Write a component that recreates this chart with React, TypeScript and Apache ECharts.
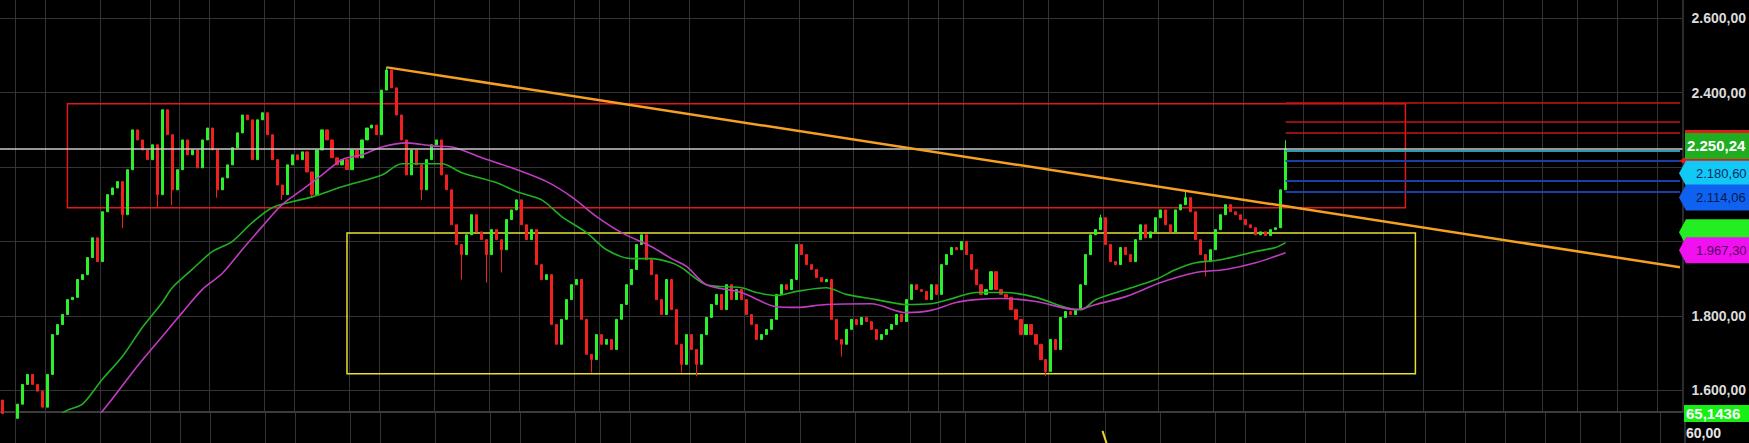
import React, { useEffect, useRef } from "react";
import * as echarts from "echarts";

// ---------- data ----------
const SLOTS = 337;
const categories: string[] = Array.from({ length: SLOTS }, (_, i) => `P${i + 1}`);

const firstOpen = 1574;
const closesRally = [
  1538, 1528, 1525, 1563, 1616, 1643, 1616, 1598, 1555, 1643,
  1750, 1777, 1804, 1844, 1850, 1898, 1911, 1957, 2010, 1946,
  2080, 2126, 2144, 2161, 2072, 2193, 2300, 2273, 2246, 2220,
  2260, 2126, 2354, 2287, 2139, 2193, 2273, 2233, 2246, 2198,
  2273, 2305, 2246, 2139, 2171, 2206, 2252, 2292, 2340, 2327,
  2220, 2327, 2346, 2287, 2220, 2152, 2126, 2206, 2233, 2220,
  2241, 2187, 2126, 2246, 2300,
];
const closesPeak = [
  2273, 2225, 2206, 2220, 2193,
  2246, 2225, 2273, 2305, 2313, 2287, 2407, 2461, 2413, 2340,
  2273, 2179, 2246, 2206, 2139, 2220, 2260, 2273, 2179, 2139,
  2045, 1992, 1965, 2018, 2072, 2026, 2005, 1965, 2032, 2005,
  1978, 2059, 2085, 2112, 2045, 2005, 2032, 1938, 1898, 1911,
  1777, 1724, 1791, 1844, 1884, 1898, 1791, 1697, 1683, 1750,
  1724, 1737, 1710, 1791, 1831, 1884, 1925, 1992, 2018, 1951,
];
const closesRange = [
  1911, 1844, 1804, 1898, 1817, 1724, 1670, 1750, 1710, 1670,
  1750, 1796, 1831, 1858, 1817, 1884, 1844, 1871, 1844, 1804,
  1777, 1737, 1750, 1764, 1791, 1858, 1884, 1871, 1898, 1992,
  1965, 1938, 1925, 1903, 1892, 1898, 1791, 1737, 1724, 1764,
  1791, 1777, 1796, 1785, 1764, 1737, 1750, 1764, 1777, 1804,
  1785, 1844, 1884, 1871, 1866, 1844, 1884, 1858, 1938, 1965,
  1984, 1978, 2000, 1965, 1925,
];
const closesBreakout = [
  1884, 1858, 1871, 1919, 1871,
  1858, 1850, 1817, 1791, 1750, 1777, 1750, 1724, 1683, 1651,
  1737, 1710, 1796, 1812, 1804, 1817, 1884, 1965, 2018, 2032,
  2064, 1992, 1946, 1938, 1984, 1965, 1946, 2005, 2045, 2010,
  2026, 2064, 2085, 2045, 2026, 2085, 2099, 2118, 2080, 2005,
  1965, 1946, 1978, 2032, 2072, 2099, 2080, 2072, 2059, 2045,
  2037, 2018, 2026, 2016, 2032, 2037, 2139, 2250.24,
];

const wickHighs: [number, number][] = [[77, 2470], [220, 2072], [237, 2134], [257, 2272]];
const wickLows: [number, number][] = [
  [24, 2036], [31, 2090], [34, 2098], [43, 2118], [56, 2112], [62, 2118], [84, 2112],
  [92, 1898], [97, 1890], [100, 1917], [118, 1648], [136, 1648], [139, 1638],
  [168, 1691], [209, 1638], [241, 1906],
];

// moving averages as [slot, value]
const maFast: [number, number][] = [
  [10, 1522], [13, 1547], [16, 1563], [20, 1630], [24, 1691], [28, 1769], [32, 1836],
  [34, 1876], [38, 1925], [42, 1973], [46, 2000], [50, 2051], [54, 2091], [58, 2107],
  [62, 2120], [68, 2147], [76, 2179], [80, 2209], [88, 2209], [92, 2185], [99, 2158],
  [103, 2134], [108, 2112], [112, 2067], [117, 2024], [121, 1978], [126, 1954],
  [130, 1954], [134, 1943], [136, 1930], [141, 1884], [148, 1876], [151, 1863],
  [155, 1855], [159, 1866], [165, 1876], [169, 1858], [175, 1844], [181, 1831],
  [186, 1833], [191, 1850], [195, 1863], [201, 1863], [207, 1850], [213, 1823],
  [216, 1817], [219, 1844], [225, 1871], [231, 1898], [235, 1925], [239, 1943],
  [244, 1951], [251, 1973], [255, 1984], [257, 1997],
];
const maSlow: [number, number][] = [
  [18, 1522], [20, 1544], [27, 1665], [32, 1745], [36, 1809], [40, 1871], [44, 1914],
  [48, 1978], [52, 2040], [56, 2099], [60, 2139], [64, 2179], [68, 2220], [72, 2233],
  [76, 2254], [81, 2265], [86, 2257], [90, 2254], [96, 2225], [102, 2198], [109, 2161],
  [114, 2120], [119, 2067], [124, 2024], [130, 1986], [134, 1954], [137, 1933],
  [141, 1884], [148, 1863], [155, 1825], [159, 1823], [165, 1831], [174, 1833],
  [181, 1809], [186, 1815], [191, 1836], [195, 1844], [200, 1847], [207, 1839],
  [215, 1817], [219, 1831], [225, 1852], [232, 1890], [239, 1917], [245, 1925],
  [251, 1943], [257, 1970],
];

const oscPoints: [number, number][] = [[220, 60.7], [221, 56.4]];

const monthTicks = [
  3, 9, 20, 30, 36, 42, 53, 59, 70, 76, 87, 98, 104, 115, 120, 126, 138, 149, 160,
  171, 182, 188, 193, 205, 210, 221, 232, 243, 249, 261, 269, 277, 285, 293, 301,
  309, 316, 324, 332,
];

const redLevels = [2373, 2322, 2293];
const tealLevel = 2243;
const blueLevels = [2217, 2163, 2134];
const lastClose = 2250.24;
const cyanLabel = 2180.6;
const blueLabel = 2114.06;
const slowLast = 1967.3;
const oscLast = 65.1436;
const oscRef = 60;

// ---------- helpers ----------
const fmt = (v: number, d = 2) => {
  const [i, dec] = v.toFixed(d).split(".");
  return i.replace(/\B(?=(\d{3})+(?!\d))/g, ".") + (dec ? "," + dec : "");
};

const closes = [...closesRally, ...closesPeak, ...closesRange, ...closesBreakout];
const hiMap = new Map(wickHighs);
const loMap = new Map(wickLows);
const candles = closes.map((c, i) => {
  const o = i === 0 ? firstOpen : closes[i - 1];
  let lo = Math.min(o, c);
  let hi = Math.max(o, c);
  if (loMap.has(i)) lo = Math.min(lo, loMap.get(i)!);
  if (hiMap.has(i)) hi = Math.max(hi, hiMap.get(i)!);
  return [o, c, lo, hi];
});

const tickSet = new Set(monthTicks);
const GRID = "#343434";
const FONT = '"Liberation Sans", Arial, sans-serif';

export default function App() {
  const ref = useRef<HTMLDivElement>(null);
  useEffect(() => {
    document.body.style.margin = "0";
    document.body.style.background = "#000";
    document.body.style.overflow = "hidden";
    const chart = echarts.init(ref.current!, undefined, { renderer: "svg" });
    const lastSlot = closes.length - 1;
    const endSlot = SLOTS - 1;
    const seg = (v: number, color: string, width: number) => [
      { coord: [lastSlot, v], lineStyle: { color, width, type: "solid" } },
      { coord: [endSlot, v] },
    ];
    const xBase = {
      type: "category",
      data: categories,
      boundaryGap: true,
      axisTick: { show: false },
      axisLabel: { show: false },
      splitLine: {
        show: true,
        interval: (idx: number) => tickSet.has(idx),
        lineStyle: { color: GRID, width: 1 },
      },
    };
    chart.setOption({
      animation: false,
      backgroundColor: "#000",
      grid: [
        { left: 0, right: 64, top: 0, bottom: 31 },
        { left: 0, right: 64, top: 413, bottom: 0 },
      ],
      xAxis: [
        { ...xBase, gridIndex: 0, axisLine: { show: true, onZero: false, lineStyle: { color: "#3c3c3c", width: 2 } } },
        { ...xBase, gridIndex: 1, axisLine: { show: false } },
      ],
      yAxis: [
        {
          type: "value",
          gridIndex: 0,
          position: "right",
          min: 1542,
          max: 2649,
          splitNumber: 5,
          axisLine: { show: true, lineStyle: { color: "#2c2c2c", width: 2 } },
          axisTick: { show: false },
          splitLine: { show: true, showMinLine: false, showMaxLine: false, lineStyle: { color: GRID, width: 1 } },
          axisLabel: {
            show: true,
            showMinLabel: false,
            showMaxLabel: false,
            margin: 9,
            color: "#dcdcdc",
            fontSize: 14,
            fontWeight: "bold",
            fontFamily: FONT,
            formatter: (v: number) => (v === 2200 || v === 2000 ? "" : fmt(v)),
          },
        },
        {
          type: "value",
          gridIndex: 1,
          position: "right",
          min: 57.3,
          max: 65.7,
          axisLine: { show: true, lineStyle: { color: "#2c2c2c", width: 2 } },
          axisTick: { show: false },
          axisLabel: { show: false },
          splitLine: { show: false },
        },
      ],
      series: [
        {
          type: "candlestick",
          xAxisIndex: 0,
          yAxisIndex: 0,
          data: candles,
          barWidth: 2.6,
          itemStyle: {
            color: "#2cf02c",
            color0: "#f02020",
            borderColor: "#2cf02c",
            borderColor0: "#f02020",
            borderWidth: 1,
          },
          markArea: {
            silent: true,
            data: [
              [
                { coord: [13, 2370], itemStyle: { color: "rgba(0,0,0,0)", borderColor: "#e01818", borderWidth: 1.5 } },
                { coord: [281, 2091] },
              ],
              [
                { coord: [69, 2023], itemStyle: { color: "rgba(0,0,0,0)", borderColor: "#e8e030", borderWidth: 1.5 } },
                { coord: [283, 1645] },
              ],
            ],
          },
          markLine: {
            silent: true,
            symbol: ["none", "none"],
            label: { show: false },
            data: [
              { yAxis: lastClose, lineStyle: { color: "#c8c8c8", width: 1.5, type: "solid" } },
              [
                { coord: [77, 2468], lineStyle: { color: "#f5a020", width: 2.5, type: "solid" } },
                { coord: [endSlot, 1931] },
              ],
              ...redLevels.map((v) => seg(v, "#c81414", 1.5)),
              seg(tealLevel, "#2a9aa8", 2),
              ...blueLevels.map((v) => seg(v, "#1a3ea8", 2)),
            ],
          },
        },
        {
          type: "line",
          xAxisIndex: 0,
          yAxisIndex: 0,
          data: maFast,
          showSymbol: false,
          smooth: 0.3,
          lineStyle: { color: "#22b022", width: 1.6 },
        },
        {
          type: "line",
          xAxisIndex: 0,
          yAxisIndex: 0,
          data: maSlow,
          showSymbol: false,
          smooth: 0.3,
          lineStyle: { color: "#c03cc0", width: 1.6 },
        },
        {
          type: "line",
          xAxisIndex: 1,
          yAxisIndex: 1,
          data: oscPoints,
          showSymbol: false,
          lineStyle: { color: "#e8d820", width: 2 },
        },
      ],
    });

    const py = (v: number) => chart.convertToPixel({ yAxisIndex: 0 }, v) as number;
    const py2 = (v: number) => chart.convertToPixel({ yAxisIndex: 1 }, v) as number;
    const R = 1751;
    const arrow = (cy: number, h: number, fill: string, z: number) => ({
      type: "polygon",
      z,
      shape: { points: [[1679, cy], [1686, cy - h / 2], [R, cy - h / 2], [R, cy + h / 2], [1686, cy + h / 2]] },
      style: { fill },
    });
    const txt = (x: number, cy: number, text: string, fill: string, weight: string, size: number, z: number) => ({
      type: "text",
      z,
      x,
      y: cy,
      style: {
        text,
        fill,
        font: `${weight} ${size}px ${FONT}`,
        align: "left",
        verticalAlign: "middle",
        textAlign: "left",
        textVerticalAlign: "middle",
      },
    });
    const cLast = py(lastClose) - 2.5;
    const cCyan = py(cyanLabel) - 1;
    const cBlue = py(blueLabel) - 1.5;
    const cMag = py(slowLast) - 3.5;
    const cGreen = cMag - 18;
    const cOsc = py2(oscLast) - 1.5;
    chart.setOption({
      graphic: [
        { type: "rect", z: 100, shape: { x: 1685, y: cLast - 16, width: 70, height: 34 }, style: { fill: "#e01a1a" } },
        { type: "polygon", z: 100, shape: { points: [[1679, cLast + 15], [1687, cLast + 10], [1687, cLast + 19]] }, style: { fill: "#e01a1a" } },
        { type: "rect", z: 101, shape: { x: 1685, y: cLast - 13, width: 70, height: 26 }, style: { fill: "#1fae1f" } },
        txt(1687, cLast, fmt(lastClose), "#ffffff", "bold", 15, 102),
        arrow(cCyan, 25, "#12c8f5", 103),
        txt(1696, cCyan, fmt(cyanLabel), "#0b2a66", "normal", 13, 104),
        arrow(cBlue, 26, "#0f62f0", 105),
        txt(1696, cBlue, fmt(blueLabel), "#021a50", "normal", 13, 106),
        arrow(cGreen, 26, "#22ee22", 107),
        arrow(cMag, 26, "#f010f0", 108),
        txt(1696, cMag, fmt(slowLast), "#5a0060", "normal", 13, 109),
        { type: "rect", z: 110, shape: { x: 1684, y: cOsc - 8.5, width: 70, height: 17 }, style: { fill: "#14f014" } },
        txt(1686, cOsc, fmt(oscLast, 4), "#ffffff", "bold", 15, 111),
        txt(1686, py2(oscRef), fmt(oscRef), "#e6e6e6", "bold", 14, 112),
      ],
    });
    return () => chart.dispose();
  }, []);
  return <div ref={ref} style={{ width: 1749, height: 443 }} />;
}
